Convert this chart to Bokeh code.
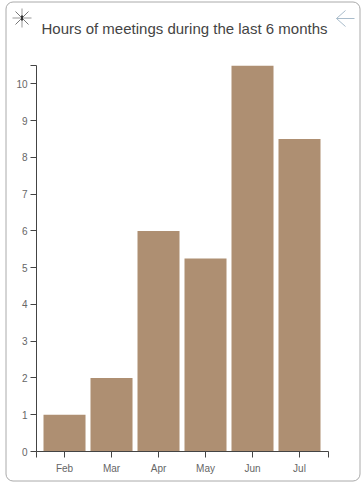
from bokeh.plotting import figure
from bokeh.embed import file_html
from bokeh.resources import INLINE
from bokeh.models import Range1d, LinearAxis, FixedTicker, BoxAnnotation
from bokeh.core.properties import value

months = ["Feb", "Mar", "Apr", "May", "Jun", "Jul"]
hours = [1, 2, 6, 5.25, 10.5, 8.5]
y_ticks = [0, 1, 2, 3, 4, 5, 6, 7, 8, 9, 10]
y_max = 10.5
title_text = "Hours of meetings during the last 6 months"

AXIS = "#444444"
LABEL = "#666666"
BAR = "#AE8F72"

W, H = 363, 486
left, right, top, bottom = 36, 35, 65, 35
x_start, x_end = -0.596, 5.617
positions = list(range(len(months)))
ABS = {"position": "absolute", "left": "0px", "top": "0px"}

chart = figure(width=W, height=H, output_backend="svg", toolbar_location=None,
               x_range=Range1d(x_start, x_end), y_range=Range1d(0, y_max), x_axis_type=None, y_axis_type=None,
               min_border_left=left, min_border_right=right, min_border_top=top, min_border_bottom=bottom,
               outline_line_color=None, background_fill_color="white", border_fill_color="white", styles=ABS)
chart.grid.visible = False

chart.vbar(x=positions, top=hours, width=0.894, bottom=0, fill_color=BAR, line_color=None)

xa = LinearAxis(ticker=FixedTicker(ticks=[x_start] + positions + [x_end]), axis_line_color=AXIS,
                major_tick_line_color=AXIS, major_tick_in=0, major_tick_out=6, minor_tick_line_color=None,
                major_label_overrides={**dict(zip(positions, months)), x_start: "", x_end: ""},
                major_label_text_font="Liberation Sans", major_label_text_font_size="10px",
                major_label_text_color=LABEL, major_label_standoff=5)
chart.add_layout(xa, "below")

ya = LinearAxis(ticker=FixedTicker(ticks=y_ticks + [y_max]), axis_line_color=AXIS,
                major_tick_line_color=AXIS, major_tick_in=0, major_tick_out=6, minor_tick_line_color=None,
                major_label_overrides={y_max: ""}, major_label_text_font="Liberation Sans",
                major_label_text_font_size="10px", major_label_text_color=LABEL, major_label_standoff=3)
chart.add_layout(ya, "left")

# Transparent page-sized layer for the card outline, title and the two icons.
card = figure(width=W, height=H, output_backend="svg", toolbar_location=None,
              x_range=Range1d(0, W), y_range=Range1d(H, 0), x_axis_type=None, y_axis_type=None,
              min_border=0, outline_line_color=None, background_fill_alpha=0, border_fill_alpha=0, styles=ABS)
card.grid.visible = False
card.add_layout(BoxAnnotation(left=5.5, right=359.5, top=1.5, bottom=480.5, fill_alpha=0, line_color="#aaaaaa",
                              line_alpha=1, line_width=1, border_radius=7))
card.text(x=[41], y=[28], text=[title_text], text_font=value("Liberation Sans"), text_font_size="15px",
          text_color="#444444", text_baseline="alphabetic")
card.line([354, 336], [18, 18], line_color="#A9BCCB")
card.line([345, 336, 345], [10, 18, 26], line_color="#A9BCCB")
card.line([12, 31], [17.5, 17.5], line_color="#999999")
card.line([21.5, 21.5], [8, 27], line_color="#999999")
card.line([15, 28], [11, 24], line_color="#777777")
card.line([28, 15], [11, 24], line_color="#777777")
card.line([21.5, 21.5], [15, 20], line_color="#333333", line_width=2)

p = (chart, card)
open("out.html", "w").write(file_html(p, INLINE))
